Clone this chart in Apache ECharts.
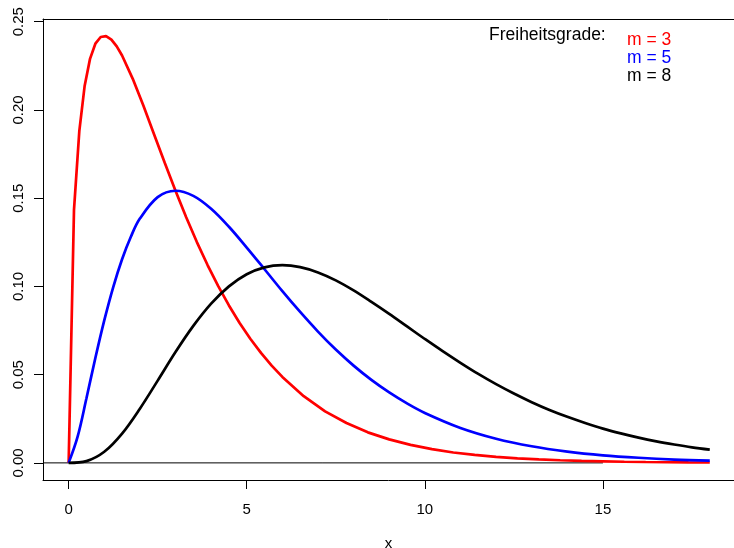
<!DOCTYPE html>
<html>
<head>
<meta charset="utf-8">
<script src="https://cdn.jsdelivr.net/npm/echarts@6/dist/echarts.min.js"></script>
<style>
  html, body { margin: 0; padding: 0; background: #fff; }
  #chart { width: 734px; height: 548px; }
</style>
</head>
<body>
<div id="chart"></div>
<script>
// Chi-Quadrat-Dichten, Werte
const legendTitle = 'Freiheitsgrade:'
const seriesNames = ['m = 3', 'm = 5', 'm = 8']
const seriesColors = ['#ff0000', '#0000ff', '#000000']

const xTicks = [0, 5, 10, 15]
const yTicks = [0, 0.05, 0.10, 0.15, 0.20, 0.25]

const xM3 = [0, 0.15, 0.3, 0.45, 0.6, 0.75, 0.9, 1.05, 1.2, 1.35, 1.5, 1.8, 2.1, 2.4, 2.7, 3.0,
  3.3, 3.6, 3.9, 4.2, 4.5, 4.8, 5.1, 5.4, 5.7, 6.0, 6.6, 7.2, 7.8, 8.4, 9.0, 9.6, 10.2, 10.8,
  11.4, 12.0, 12.6, 13.2, 13.8, 14.4, 15.0, 15.6, 16.2, 16.8, 17.4, 18.0]
const yM3 = [0, 0.1433, 0.1881, 0.2137, 0.2289, 0.2375, 0.2413, 0.2418, 0.2398, 0.2360, 0.2308,
  0.2176, 0.2023, 0.1861, 0.1699, 0.1542, 0.1392, 0.1251, 0.1121, 0.1001, 0.0892, 0.0793,
  0.0703, 0.0623, 0.0551, 0.0487, 0.0378, 0.0292, 0.0226, 0.0173, 0.0133, 0.0102, 0.0078,
  0.0059, 0.0045, 0.0034, 0.0026, 0.0020, 0.0015, 0.0011, 0.0009, 0.00065, 0.00049, 0.00037,
  0.00028, 0.00021]

const xM5 = [0, 0.25, 0.5, 0.75, 1.0, 1.25, 1.5, 1.75, 2.0, 2.5, 3.0, 3.5, 4.0, 4.5, 5.0, 5.5,
  6.0, 6.5, 7.0, 7.5, 8.0, 8.5, 9.0, 9.5, 10, 11, 12, 13, 14, 15, 16, 17, 18]
const yM5 = [0, 0.0147, 0.0366, 0.0594, 0.0807, 0.0995, 0.1154, 0.1283, 0.1384, 0.1506, 0.1542,
  0.1513, 0.1440, 0.1338, 0.1220, 0.1097, 0.0973, 0.0855, 0.0744, 0.0642, 0.0551, 0.0470,
  0.0399, 0.0337, 0.0283, 0.0198, 0.0137, 0.0094, 0.0064, 0.0043, 0.0029, 0.0019, 0.0013]

const xM8 = [0, 0.5, 1.0, 1.5, 2.0, 2.5, 3.0, 3.5, 4.0, 4.5, 5.0, 5.5, 6.0, 6.5, 7.0, 7.5, 8.0,
  8.5, 9.0, 9.5, 10, 10.5, 11, 11.5, 12, 12.5, 13, 13.5, 14, 14.5, 15, 15.5, 16, 16.5, 17, 17.5, 18]
const yM8 = [0, 0.0010, 0.0063, 0.0166, 0.0307, 0.0466, 0.0628, 0.0776, 0.0902, 0.1000, 0.1069,
  0.1108, 0.1120, 0.1109, 0.1079, 0.1034, 0.0977, 0.0912, 0.0844, 0.0773, 0.0702, 0.0633,
  0.0567, 0.0504, 0.0446, 0.0393, 0.0344, 0.0300, 0.0261, 0.0226, 0.0194, 0.0167, 0.0143,
  0.0122, 0.0104, 0.0088, 0.0075]

// waagerechte Nulllinie (endet bei x = 15)
const zeroLineX = [-0.72, 15]
const zeroLineY = [0, 0]

const zip = (xs, ys) => xs.map((x, i) => [x, ys[i]])
const curves = [zip(xM3, yM3), zip(xM5, yM5), zip(xM8, yM8)]
const smoothness = [false, 0.35, 0.35]

const font = "'Liberation Sans', Arial, sans-serif"
const chart = echarts.init(document.getElementById('chart'))

const boxLine = { show: true, onZero: false, lineStyle: { color: '#000', width: 1 } }

const option = {
  animation: false,
  backgroundColor: '#fff',
  grid: {
    left: 43, top: 19, right: 0, bottom: 68,
    outerBoundsMode: 'none',
    containLabel: false,
    show: false
  },
  title: {
    text: legendTitle,
    left: 489, top: 26.5, padding: 0,
    textStyle: { fontFamily: font, fontSize: 17.5, fontWeight: 'normal', color: '#000', lineHeight: 17 }
  },
  legend: {
    orient: 'vertical',
    left: 622, top: 31, padding: 0,
    itemGap: 0.3, itemWidth: 0, itemHeight: 17,
    icon: 'none',
    selectedMode: false,
    itemStyle: { opacity: 0 },
    lineStyle: { opacity: 0 },
    textStyle: { fontFamily: font, fontSize: 17.5, lineHeight: 17 },
    data: seriesNames.map((n, i) => ({ name: n, textStyle: { color: seriesColors[i] } }))
  },
  xAxis: [
    {
      type: 'value', position: 'bottom',
      min: -0.72, max: 18.68,
      name: 'x', nameLocation: 'middle', nameGap: 56,
      nameTextStyle: { fontFamily: font, fontSize: 15, color: '#000' },
      axisLine: boxLine,
      splitLine: { show: false },
      axisTick: { show: true, inside: false, length: 9, customValues: xTicks, lineStyle: { color: '#000', width: 1 } },
      axisLabel: {
        customValues: xTicks, margin: 22,
        fontFamily: font, fontSize: 15, color: '#000'
      }
    },
    {
      // obere Rahmenlinie
      type: 'value', position: 'top',
      min: -0.72, max: 18.68,
      axisLine: boxLine,
      axisTick: { show: false },
      axisLabel: { show: false },
      splitLine: { show: false }
    }
  ],
  yAxis: {
    type: 'value',
    min: -0.0097, max: 0.2515,
    axisLine: boxLine,
    splitLine: { show: false },
    axisTick: { show: true, inside: false, length: 9, customValues: yTicks, lineStyle: { color: '#000', width: 1 } },
    axisLabel: {
      customValues: yTicks, rotate: 90, margin: 17,
      fontFamily: font, fontSize: 15, color: '#000',
      formatter: (v) => v.toFixed(2)
    }
  },
  series: [
    {
      type: 'line', name: 'zero', data: zip(zeroLineX, zeroLineY),
      symbol: 'none', silent: true,
      lineStyle: { color: '#000', width: 1 }
    },
    ...curves.map((d, i) => ({
      type: 'line', name: seriesNames[i], data: d,
      symbol: 'none', showSymbol: false,
      smooth: smoothness[i],
      color: seriesColors[i],
      lineStyle: { color: seriesColors[i], width: 2.7 }
    }))
  ]
}
chart.setOption(option)
</script>
</body>
</html>
